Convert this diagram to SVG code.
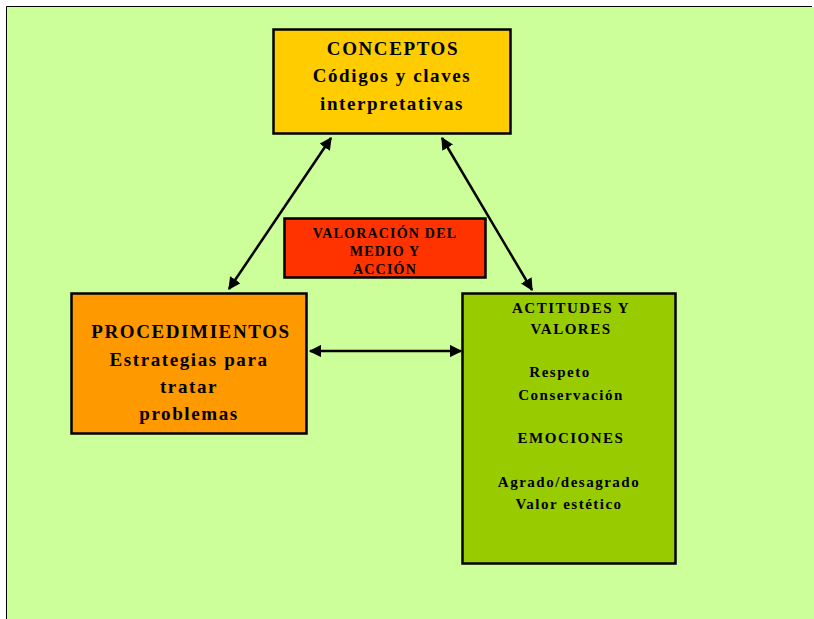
<svg xmlns="http://www.w3.org/2000/svg" width="814" height="619" viewBox="0 0 814 619">
<defs>
<marker id="ah" viewBox="0 0 10 10" refX="9" refY="5" markerWidth="5" markerHeight="5" orient="auto-start-reverse" markerUnits="strokeWidth">
<path d="M0,0 L10,5 L0,10 z" fill="#000"/>
</marker>
<style>
.box{stroke:#000;stroke-width:2.5}
.t{font-family:"Liberation Serif","Times New Roman",serif;font-weight:bold;fill:#000;text-anchor:middle}
.big{font-size:19px;letter-spacing:1.6px}
.mid{font-size:15px;letter-spacing:1.5px}
.sm{font-size:14px;letter-spacing:1.2px}
.c{stroke:#000;stroke-width:2.5;fill:none;marker-start:url(#ah);marker-end:url(#ah)}
</style>
</defs>
<rect x="0" y="0" width="814" height="619" fill="#fff"/>
<rect x="7" y="7" width="807" height="612" fill="#CCFF99"/>
<path d="M6.5,619 V6.5 H812" stroke="#000" stroke-width="1" fill="none"/>
<g id="connectors">
<line class="c" x1="229" y1="289" x2="331" y2="138"/>
<line class="c" x1="532" y1="290" x2="442" y2="138"/>
<line class="c" x1="310" y1="351" x2="461" y2="351"/>
</g>
<g id="conceptos">
<rect class="box" x="273.5" y="29.5" width="237" height="104" fill="#FFCC00"/>
<text class="t big" x="393" y="55">CONCEPTOS</text>
<text class="t big" x="392" y="82">Códigos y claves</text>
<text class="t big" x="392" y="110">interpretativas</text>
</g>
<g id="procedimientos">
<rect class="box" x="71.5" y="293.5" width="235" height="140" fill="#FF9900"/>
<text class="t big" x="191" y="338">PROCEDIMIENTOS</text>
<text class="t big" x="189" y="366">Estrategias para</text>
<text class="t big" x="189" y="393">tratar</text>
<text class="t big" x="189" y="420">problemas</text>
</g>
<g id="actitudes">
<rect class="box" x="462.5" y="293.5" width="213" height="270" fill="#99CC00"/>
<text class="t mid" x="571" y="313">ACTITUDES Y</text>
<text class="t mid" x="571" y="334">VALORES</text>
<text class="t mid" x="560" y="377">Respeto</text>
<text class="t mid" x="571" y="400">Conservación</text>
<text class="t mid" x="571" y="443">EMOCIONES</text>
<text class="t mid" x="569" y="487">Agrado/desagrado</text>
<text class="t mid" x="569" y="509">Valor estético</text>
</g>
<g id="valoracion">
<rect class="box" x="284.5" y="218.5" width="201" height="59" fill="#FF3300"/>
<text class="t sm" x="385" y="238">VALORACIÓN DEL</text>
<text class="t sm" x="385" y="256">MEDIO Y</text>
<text class="t sm" x="385" y="274">ACCIÓN</text>
</g>
</svg>
